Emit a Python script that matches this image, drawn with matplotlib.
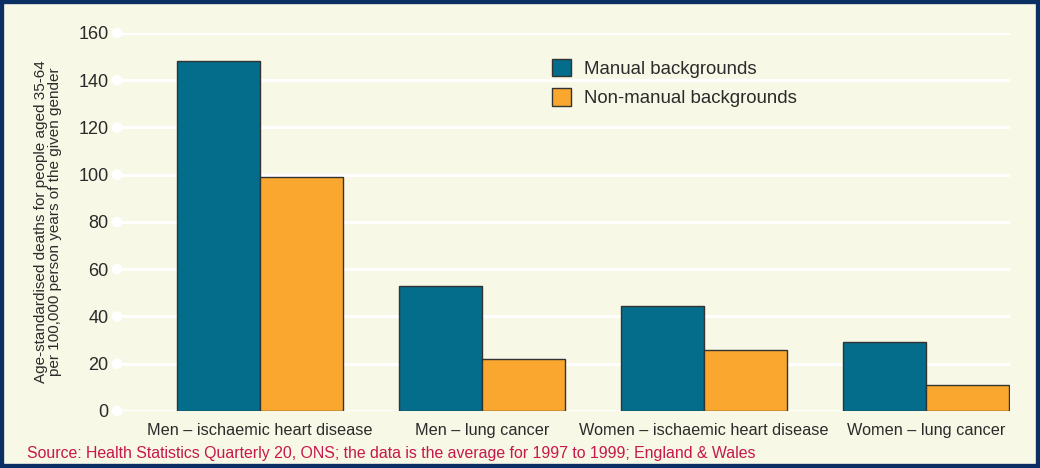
import matplotlib
matplotlib.use("Agg")
import matplotlib.pyplot as plt
import numpy as np

plt.rcParams["font.family"] = ["Liberation Sans", "DejaVu Sans"]

categories = [
    "Men \u2013 ischaemic heart disease",
    "Men \u2013 lung cancer",
    "Women \u2013 ischaemic heart disease",
    "Women \u2013 lung cancer",
]
manual = [148, 53, 44.5, 29]
non_manual = [99, 22, 26, 11]
y_ticks = [0, 20, 40, 60, 80, 100, 120, 140, 160]

BG = "#f7f8e5"
NAVY = "#0c2f63"
TEAL = "#036d8b"
ORANGE = "#f9a72e"
TEXT = "#2b2b2b"

fig = plt.figure(figsize=(10.4, 4.68), dpi=100, facecolor=BG)
fig.patches.append(plt.Rectangle((0, 0), 1, 1, transform=fig.transFigure,
                                 facecolor="none", edgecolor=NAVY, linewidth=6, zorder=10))
ax = fig.add_axes([0.1125, 0.1218, 0.8585, 0.8077])
ax.set_facecolor(BG)

x = np.arange(len(categories))
width = 0.374
ax.set_xlim(-0.644, 3.378)
ax.set_ylim(0, 160)

# white gridlines with a round cap at the left end
for value in y_ticks:
    ax.axhline(value, color="white", linewidth=2.2, zorder=1)
ax.scatter(np.full(len(y_ticks), -0.644), y_ticks, s=60, color="white",
           zorder=2, clip_on=False, edgecolor="none")

ax.bar(x - width / 2, manual, width, color=TEAL, edgecolor="#333333",
       linewidth=1, zorder=3, label="Manual backgrounds")
ax.bar(x + width / 2, non_manual, width, color=ORANGE, edgecolor="#333333",
       linewidth=1, zorder=3, label="Non-manual backgrounds")

for side in ax.spines.values():
    side.set_visible(False)
ax.set_yticks(y_ticks)
ax.set_xticks(x)
ax.set_xticklabels(categories)
ax.tick_params(axis="y", length=0, pad=6, labelsize=13, labelcolor=TEXT)
ax.tick_params(axis="x", length=0, pad=9, labelsize=11.7, labelcolor=TEXT)

ax.set_ylabel("Age-standardised deaths for people aged 35-64\n"
              "per 100,000 person years of the given gender",
              fontsize=11, color=TEXT, labelpad=12, linespacing=1.0)

ax.legend(loc="upper left", bbox_to_anchor=(0.468, 0.975), frameon=False,
          fontsize=13.4, handlelength=1.05, handleheight=1.05,
          handletextpad=0.7, labelspacing=0.55, labelcolor=TEXT)

fig.text(0.026, 0.032, "Source: Health Statistics Quarterly 20, ONS; the data is the "
         "average for 1997 to 1999; England & Wales",
         fontsize=11.4, color="#c8174a", ha="left", va="center")

fig.savefig("out.png", dpi=100, facecolor=BG)
